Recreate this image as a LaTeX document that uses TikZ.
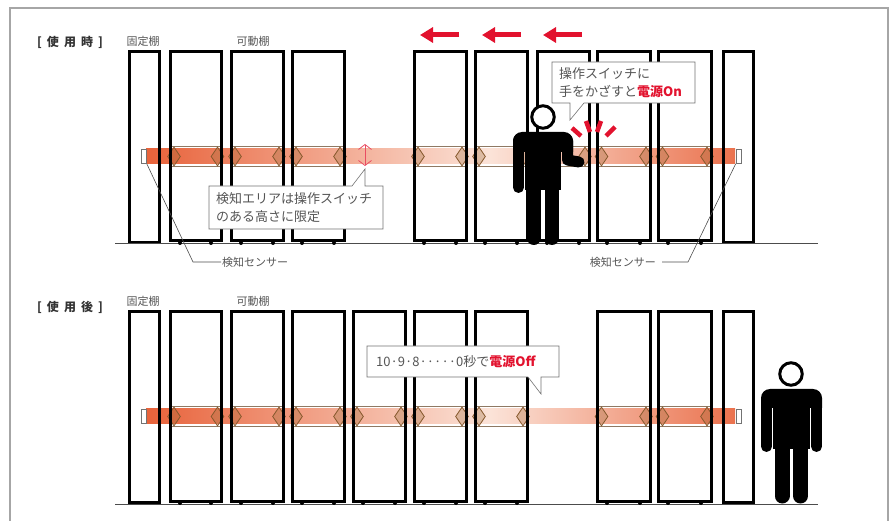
\documentclass[tikz,border=0pt]{standalone}
\usepackage{fontspec}
\setmainfont{Noto Sans CJK JP}
\newfontfamily\headfont[LetterSpace=42]{Noto Sans CJK JP}
\usetikzlibrary{arrows.meta,shapes.geometric}
\definecolor{bandhot}{HTML}{E8623A}
\definecolor{bandpale}{HTML}{FBE3D8}
\definecolor{alertred}{HTML}{E2122E}
\definecolor{labelgray}{HTML}{555555}
\tikzset{
  shelfbox/.style={draw=black, line width=3pt},
  shelfwheel/.style={fill=black},
  beamedge/.style={draw=black!50!brown!70, line width=0.6pt},
  beamhead/.style={diamond, draw=brown!70!black, line width=0.8pt, fill=brown!80!black, fill opacity=0.3, text opacity=1, inner sep=0pt, minimum width=13pt, minimum height=19pt, aspect=0.7},
  sensorbox/.style={rectangle, draw=black!55, line width=0.6pt, fill=white, inner sep=0pt, minimum width=5pt, minimum height=14pt},
  smalllabel/.style={font=\fontsize{11}{13}\selectfont, text=labelgray, inner sep=1pt},
  headlabel/.style={font=\headfont\bfseries\fontsize{12}{14}\selectfont, text=black!80, inner sep=0pt},
  calloutbox/.style={draw=black!55, line width=0.6pt, fill=white},
  callouttext/.style={font=\fontsize{13}{17.5}\selectfont, text=labelgray, align=left, anchor=west, inner sep=0pt},
  leader/.style={draw=black!70, line width=0.6pt},
  movearrow/.style={draw=alertred, line width=5pt, -{Triangle[length=13pt,width=15pt]}},
  spark/.style={draw=alertred, line width=4.5pt},
  personhead/.style={circle, draw=black, line width=3pt, fill=white, inner sep=0pt, minimum size=22.5pt},
  personlimb/.style={draw=black, line cap=round, line join=round},
}
\begin{document}
\begin{tikzpicture}[x=1pt,y=-1pt]
\useasboundingbox (0,0) rectangle (895,521);
\draw[black!35, line width=1.5pt] (10,521) -- (10,8) -- (888,8) -- (888,521);
% upper row
\node[headlabel] (headTop) at (70,42) {[使用時]};
\node[smalllabel] (fixedTop) at (143,41) {固定棚};
\node[smalllabel] (movableTop) at (253,41) {可動棚};
\shade[left color=bandhot, right color=bandpale] (146,149) rectangle (490.3,164);
\shade[left color=bandpale, right color=bandhot!90!white] (490,149) rectangle (735,164);
\draw[beamedge] (170,146.5) rectangle (221.5,166.5);
\draw[beamedge] (231,146.5) rectangle (283,166.5);
\draw[beamedge] (292,146.5) rectangle (344,166.5);
\draw[beamedge] (414,146.5) rectangle (466,166.5);
\draw[beamedge] (475,146.5) rectangle (527,166.5);
\draw[beamedge] (537,146.5) rectangle (589,166.5);
\draw[beamedge] (597.5,146.5) rectangle (650,166.5);
\draw[beamedge] (658.5,146.5) rectangle (711,166.5);
\node[beamhead] (t1l) at (174,156.5) {};
\node[beamhead] (t1r) at (217.5,156.5) {};
\node[beamhead] (t2l) at (235,156.5) {};
\node[beamhead] (t2r) at (279,156.5) {};
\node[beamhead] (t3l) at (296,156.5) {};
\node[beamhead] (t3r) at (340,156.5) {};
\node[beamhead] (t4l) at (418,156.5) {};
\node[beamhead] (t4r) at (462,156.5) {};
\node[beamhead] (t5l) at (479,156.5) {};
\node[beamhead] (t5r) at (523,156.5) {};
\node[beamhead] (t6l) at (541,156.5) {};
\node[beamhead] (t6r) at (585,156.5) {};
\node[beamhead] (t7l) at (601.5,156.5) {};
\node[beamhead] (t7r) at (646,156.5) {};
\node[beamhead] (t8l) at (662.5,156.5) {};
\node[beamhead] (t8r) at (707,156.5) {};
\draw[shelfbox] (129.5,52) rectangle (159.5,242.5);
\draw[shelfbox] (170,52) rectangle (221.5,241);
\draw[shelfbox] (231,52) rectangle (283,241);
\draw[shelfbox] (292,52) rectangle (344,241);
\draw[shelfbox] (414,52) rectangle (466,241);
\draw[shelfbox] (475,52) rectangle (527,241);
\draw[shelfbox] (537,52) rectangle (589,241);
\draw[shelfbox] (597.5,52) rectangle (650,241);
\draw[shelfbox] (658.5,52) rectangle (711,241);
\draw[shelfbox] (723,52) rectangle (753.5,242.5);
\draw[black!70, line width=1pt] (115,244) -- (818,244);
\fill[shelfwheel] (180,243) circle (2pt) (211,243) circle (2pt);
\fill[shelfwheel] (241,243) circle (2pt) (273,243) circle (2pt);
\fill[shelfwheel] (302,243) circle (2pt) (334,243) circle (2pt);
\fill[shelfwheel] (424,243) circle (2pt) (456,243) circle (2pt);
\fill[shelfwheel] (485,243) circle (2pt) (517,243) circle (2pt);
\fill[shelfwheel] (547,243) circle (2pt) (579,243) circle (2pt);
\fill[shelfwheel] (607,243) circle (2pt) (640,243) circle (2pt);
\fill[shelfwheel] (668,243) circle (2pt) (701,243) circle (2pt);
\node[sensorbox] (sensorTL) at (144,156.5) {};
\node[sensorbox] (sensorTR) at (738.5,156.5) {};
\node[smalllabel, anchor=west] (labelTL) at (221,262) {検知センサー};
\node[smalllabel, anchor=east] (labelTR) at (657,262) {検知センサー};
\coordinate (bendTL) at (193,262);
\coordinate (bendTR) at (688,262);
\draw[leader] (sensorTL.south east) -- (bendTL) -- (labelTL.west);
\draw[leader] (sensorTR.south west) -- (bendTR) -- ([xshift=5pt]labelTR.east);
\draw[draw=alertred!75!white, line width=0.8pt, {Straight Barb[length=5pt,width=13pt]}-{Straight Barb[length=5pt,width=13pt]}] (365,144) -- (365,166);
\draw[calloutbox] (209,186) -- (352,186) -- (365,169) -- (365,186) -- (383,186) -- (383,229) -- (209,229) -- cycle;
\node[callouttext] (noteArea) at (216,207.5) {検知エリアは操作スイッチ\\のある高さに限定};
\draw[movearrow] (459,35) -- (420,35);
\draw[movearrow] (521,35) -- (482,35);
\draw[movearrow] (582,35) -- (543,35);
\draw[calloutbox] (552,62) -- (695,62) -- (695,103) -- (584,103) -- (570,120) -- (570,103) -- (552,103) -- cycle;
\node[callouttext] (noteOn) at (559,82.5) {操作スイッチに\\手をかざすと\textcolor{alertred}{\bfseries 電源On}};
\draw[spark] (572,128) -- (581,136);
\draw[spark] (586,121) -- (590,132);
\draw[spark] (601,121) -- (597,132);
\draw[spark] (615,127) -- (606,136);
% person at the switch
\node[personhead] (headA) at (543,117) {};
\fill[black] (513,152) [rounded corners=9pt] -- (513,132) -- (573,132) [sharp corners] -- (573,152) -- cycle;
\fill[black] (524.5,140) rectangle (560.5,190);
\draw[personlimb, line width=11pt] (518.5,140) -- (518.5,187.5);
\draw[personlimb, line width=11pt] (567.5,140) -- (567.5,160) -- (579,162);
\draw[personlimb, line width=14pt] (533.5,185) -- (533.5,238);
\draw[personlimb, line width=14pt] (552,185) -- (552,238);
% lower row
\node[headlabel] (headBottom) at (70,307) {[使用後]};
\node[smalllabel] (fixedBottom) at (143,301) {固定棚};
\node[smalllabel] (movableBottom) at (253,301) {可動棚};
\shade[left color=bandhot, right color=bandpale] (146,409) rectangle (490.3,424);
\shade[left color=bandpale, right color=bandhot!90!white] (490,409) rectangle (735,424);
\draw[beamedge] (170,406.5) rectangle (221.5,426.5);
\draw[beamedge] (231,406.5) rectangle (283,426.5);
\draw[beamedge] (292,406.5) rectangle (344,426.5);
\draw[beamedge] (353,406.5) rectangle (405,426.5);
\draw[beamedge] (414,406.5) rectangle (466,426.5);
\draw[beamedge] (475,406.5) rectangle (527,426.5);
\draw[beamedge] (597.5,406.5) rectangle (650,426.5);
\draw[beamedge] (658.5,406.5) rectangle (711,426.5);
\node[beamhead] (b1l) at (174,416.5) {};
\node[beamhead] (b1r) at (217.5,416.5) {};
\node[beamhead] (b2l) at (235,416.5) {};
\node[beamhead] (b2r) at (279,416.5) {};
\node[beamhead] (b3l) at (296,416.5) {};
\node[beamhead] (b3r) at (340,416.5) {};
\node[beamhead] (b4l) at (357,416.5) {};
\node[beamhead] (b4r) at (401,416.5) {};
\node[beamhead] (b5l) at (418,416.5) {};
\node[beamhead] (b5r) at (462,416.5) {};
\node[beamhead] (b6l) at (479,416.5) {};
\node[beamhead] (b6r) at (523,416.5) {};
\node[beamhead] (b7l) at (601.5,416.5) {};
\node[beamhead] (b7r) at (646,416.5) {};
\node[beamhead] (b8l) at (662.5,416.5) {};
\node[beamhead] (b8r) at (707,416.5) {};
\draw[shelfbox] (129.5,312) rectangle (159.5,502.5);
\draw[shelfbox] (170,312) rectangle (221.5,501);
\draw[shelfbox] (231,312) rectangle (283,501);
\draw[shelfbox] (292,312) rectangle (344,501);
\draw[shelfbox] (353,312) rectangle (405,501);
\draw[shelfbox] (414,312) rectangle (466,501);
\draw[shelfbox] (475,312) rectangle (527,501);
\draw[shelfbox] (597.5,312) rectangle (650,501);
\draw[shelfbox] (658.5,312) rectangle (711,501);
\draw[shelfbox] (723,312) rectangle (753.5,502.5);
\draw[black!70, line width=1pt] (115,504) -- (818,504);
\fill[shelfwheel] (180,503) circle (2pt) (211,503) circle (2pt);
\fill[shelfwheel] (241,503) circle (2pt) (273,503) circle (2pt);
\fill[shelfwheel] (302,503) circle (2pt) (334,503) circle (2pt);
\fill[shelfwheel] (363,503) circle (2pt) (395,503) circle (2pt);
\fill[shelfwheel] (424,503) circle (2pt) (456,503) circle (2pt);
\fill[shelfwheel] (485,503) circle (2pt) (517,503) circle (2pt);
\fill[shelfwheel] (607,503) circle (2pt) (640,503) circle (2pt);
\fill[shelfwheel] (668,503) circle (2pt) (701,503) circle (2pt);
\node[sensorbox] (sensorBL) at (144,416) {};
\node[sensorbox] (sensorBR) at (738.5,416) {};
\draw[calloutbox] (367,346) -- (559,346) -- (559,377) -- (541,377) -- (541,394) -- (528,377) -- (367,377) -- cycle;
\node[callouttext] (noteOff) at (376,361.5) {10·9·8·····0秒で\textcolor{alertred}{\bfseries 電源Off}};
% person walking away
\node[personhead] (headB) at (791,374) {};
\fill[black] (761,408) [rounded corners=9pt] -- (761,389) -- (822,389) [sharp corners] -- (822,408) -- cycle;
\fill[black] (772.5,400) rectangle (810,449);
\draw[personlimb, line width=11pt] (766.5,400) -- (766.5,446.5);
\draw[personlimb, line width=11pt] (816.5,400) -- (816.5,446.5);
\draw[personlimb, line width=15pt] (782,445) -- (782,496);
\draw[personlimb, line width=15pt] (800.5,445) -- (800.5,496);
\end{tikzpicture}
\end{document}
